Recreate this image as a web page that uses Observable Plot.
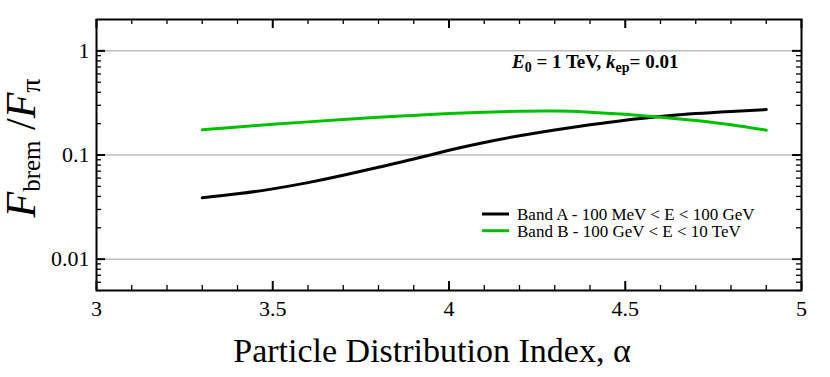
<!DOCTYPE html>
<html><head><meta charset="utf-8">
<script src="https://cdn.jsdelivr.net/npm/d3@7"></script>
<script src="https://cdn.jsdelivr.net/npm/@observablehq/plot@0.6"></script>
<style>body{margin:0;background:#fff} svg{display:block} svg text{font-family:'Liberation Serif','Times New Roman',serif !important}</style>
</head><body><div id="chart"></div>
<script>
// Data
const alpha = [3.3, 3.4, 3.5, 3.6, 3.7, 3.8, 3.9, 4.0, 4.1, 4.2, 4.3, 4.4, 4.5, 4.6, 4.7, 4.8, 4.9];
const bandA = [0.0388, 0.0424, 0.0473, 0.0543, 0.0638, 0.0762, 0.0914, 0.111, 0.132, 0.153, 0.174, 0.195, 0.216, 0.234, 0.250, 0.262, 0.273];
const bandB = [0.175, 0.186, 0.197, 0.208, 0.219, 0.230, 0.240, 0.250, 0.258, 0.263, 0.264, 0.258, 0.246, 0.231, 0.214, 0.195, 0.173];
const seriesNames = ["Band A - 100 MeV < E < 100 GeV", "Band B - 100 GeV < E < 10 TeV"];
const seriesColors = ["#000000", "#00c000"];
const xTicks = [3, 3.5, 4, 4.5, 5];
const yTicks = [0.01, 0.1, 1];
const xLabel = "Particle Distribution Index, α";
const annotationParts = [["E", "i"], ["0", "sub"], [" = 1 TeV, ", ""], ["k", "i"], ["ep", "sub"], ["= 0.01", ""]];

const W = 830, H = 377;
const mL = 96, mR = 29, mT = 19, mB = 87;
const fw = W - mL - mR, fh = H - mT - mB;
const serif = "'Liberation Serif', 'Times New Roman', serif";

const rows = alpha.flatMap((a, i) => [
  {alpha: a, ratio: bandA[i], band: seriesNames[0]},
  {alpha: a, ratio: bandB[i], band: seriesNames[1]}
]);
const xMinor = d3.range(30, 51).map(d => d / 10).filter(v => !xTicks.some(t => Math.abs(t - v) < 1e-9));
const yMinor = [0.001, 0.01, 0.1].flatMap(d => d3.range(2, 10).map(m => +(m * d).toPrecision(3))).filter(v => v >= 0.005 && v < 2);

const majLen = 9, minLen = 5;
const plot = Plot.plot({
  width: W, height: H,
  marginLeft: mL, marginRight: mR, marginTop: mT, marginBottom: mB,
  style: {fontFamily: serif, fontSize: "22px", background: "#fff", color: "#000"},
  x: {domain: [3, 5]},
  y: {type: "log", domain: [0.005, 2]},
  color: {domain: seriesNames, range: seriesColors},
  marks: [
    Plot.ruleY(yTicks, {y: d => d, stroke: "#9a9a9a", strokeWidth: 1}),
    Plot.line(rows, {x: "alpha", y: "ratio", z: "band", stroke: "band", strokeWidth: 3, curve: "natural"}),
    // inward ticks on all four sides
    Plot.tickX(xTicks, {x: d => d, insetTop: fh - majLen, stroke: "#000", strokeWidth: 2}),
    Plot.tickX(xTicks, {x: d => d, insetBottom: fh - majLen, stroke: "#000", strokeWidth: 2}),
    Plot.tickX(xMinor, {x: d => d, insetTop: fh - minLen, stroke: "#000", strokeWidth: 1.3}),
    Plot.tickX(xMinor, {x: d => d, insetBottom: fh - minLen, stroke: "#000", strokeWidth: 1.3}),
    Plot.tickY(yTicks, {y: d => d, insetRight: fw - majLen, stroke: "#000", strokeWidth: 2}),
    Plot.tickY(yTicks, {y: d => d, insetLeft: fw - majLen, stroke: "#000", strokeWidth: 2}),
    Plot.tickY(yMinor, {y: d => d, insetRight: fw - minLen, stroke: "#000", strokeWidth: 1.3}),
    Plot.tickY(yMinor, {y: d => d, insetLeft: fw - minLen, stroke: "#000", strokeWidth: 1.3}),
    Plot.frame({stroke: "#000", strokeWidth: 2}),
    Plot.axisX(xTicks, {tickSize: 0, tickPadding: 10, fontSize: 22, tickFormat: d => String(d), label: null}),
    Plot.axisY(yTicks, {tickSize: 0, tickPadding: 7, fontSize: 22, tickFormat: d => String(d), label: null})
  ]
});
document.getElementById("chart").appendChild(plot);

const svg = d3.select(plot);
// x-axis title
svg.append("text").attr("x", 432).attr("y", 362).attr("text-anchor", "middle")
  .style("font-family", serif).style("font-size", "34px").attr("fill", "#000").text(xLabel);

// y-axis title with subscripts
const yl = svg.append("text").attr("transform", "translate(35,148) rotate(-90)")
  .attr("text-anchor", "middle").style("font-family", serif).style("font-size", "42px").attr("fill", "#000");
yl.append("tspan").attr("font-style", "italic").text("F");
yl.append("tspan").attr("font-size", "25px").attr("dy", 5).text("brem");
yl.append("tspan").attr("dy", -5).text(" /");
yl.append("tspan").attr("font-style", "italic").text("F");
yl.append("tspan").attr("font-size", "28px").attr("dy", 5).text("π");

// annotation
const an = svg.append("text").attr("x", 512).attr("y", 68).attr("text-anchor", "start")
  .style("font-family", serif).style("font-size", "19px").attr("font-weight", "bold").attr("fill", "#000");
let shifted = false;
annotationParts.forEach(([t, kind]) => {
  const ts = an.append("tspan").text(t);
  if (kind === "i") ts.attr("font-style", "italic");
  if (kind === "sub") { ts.attr("font-size", "14px").attr("dy", 4); shifted = true; }
  else if (shifted) { ts.attr("dy", -4); shifted = false; }
});

// legend
seriesNames.forEach((name, i) => {
  const yy = 214 + i * 16.7;
  svg.append("line").attr("x1", 482).attr("x2", 509).attr("y1", yy).attr("y2", yy)
    .attr("stroke", seriesColors[i]).attr("stroke-width", 3);
  svg.append("text").attr("x", 517).attr("y", yy + 6).attr("text-anchor", "start")
    .style("font-family", serif).style("font-size", "17px").attr("fill", "#000").text(name);
});
</script></body></html>
